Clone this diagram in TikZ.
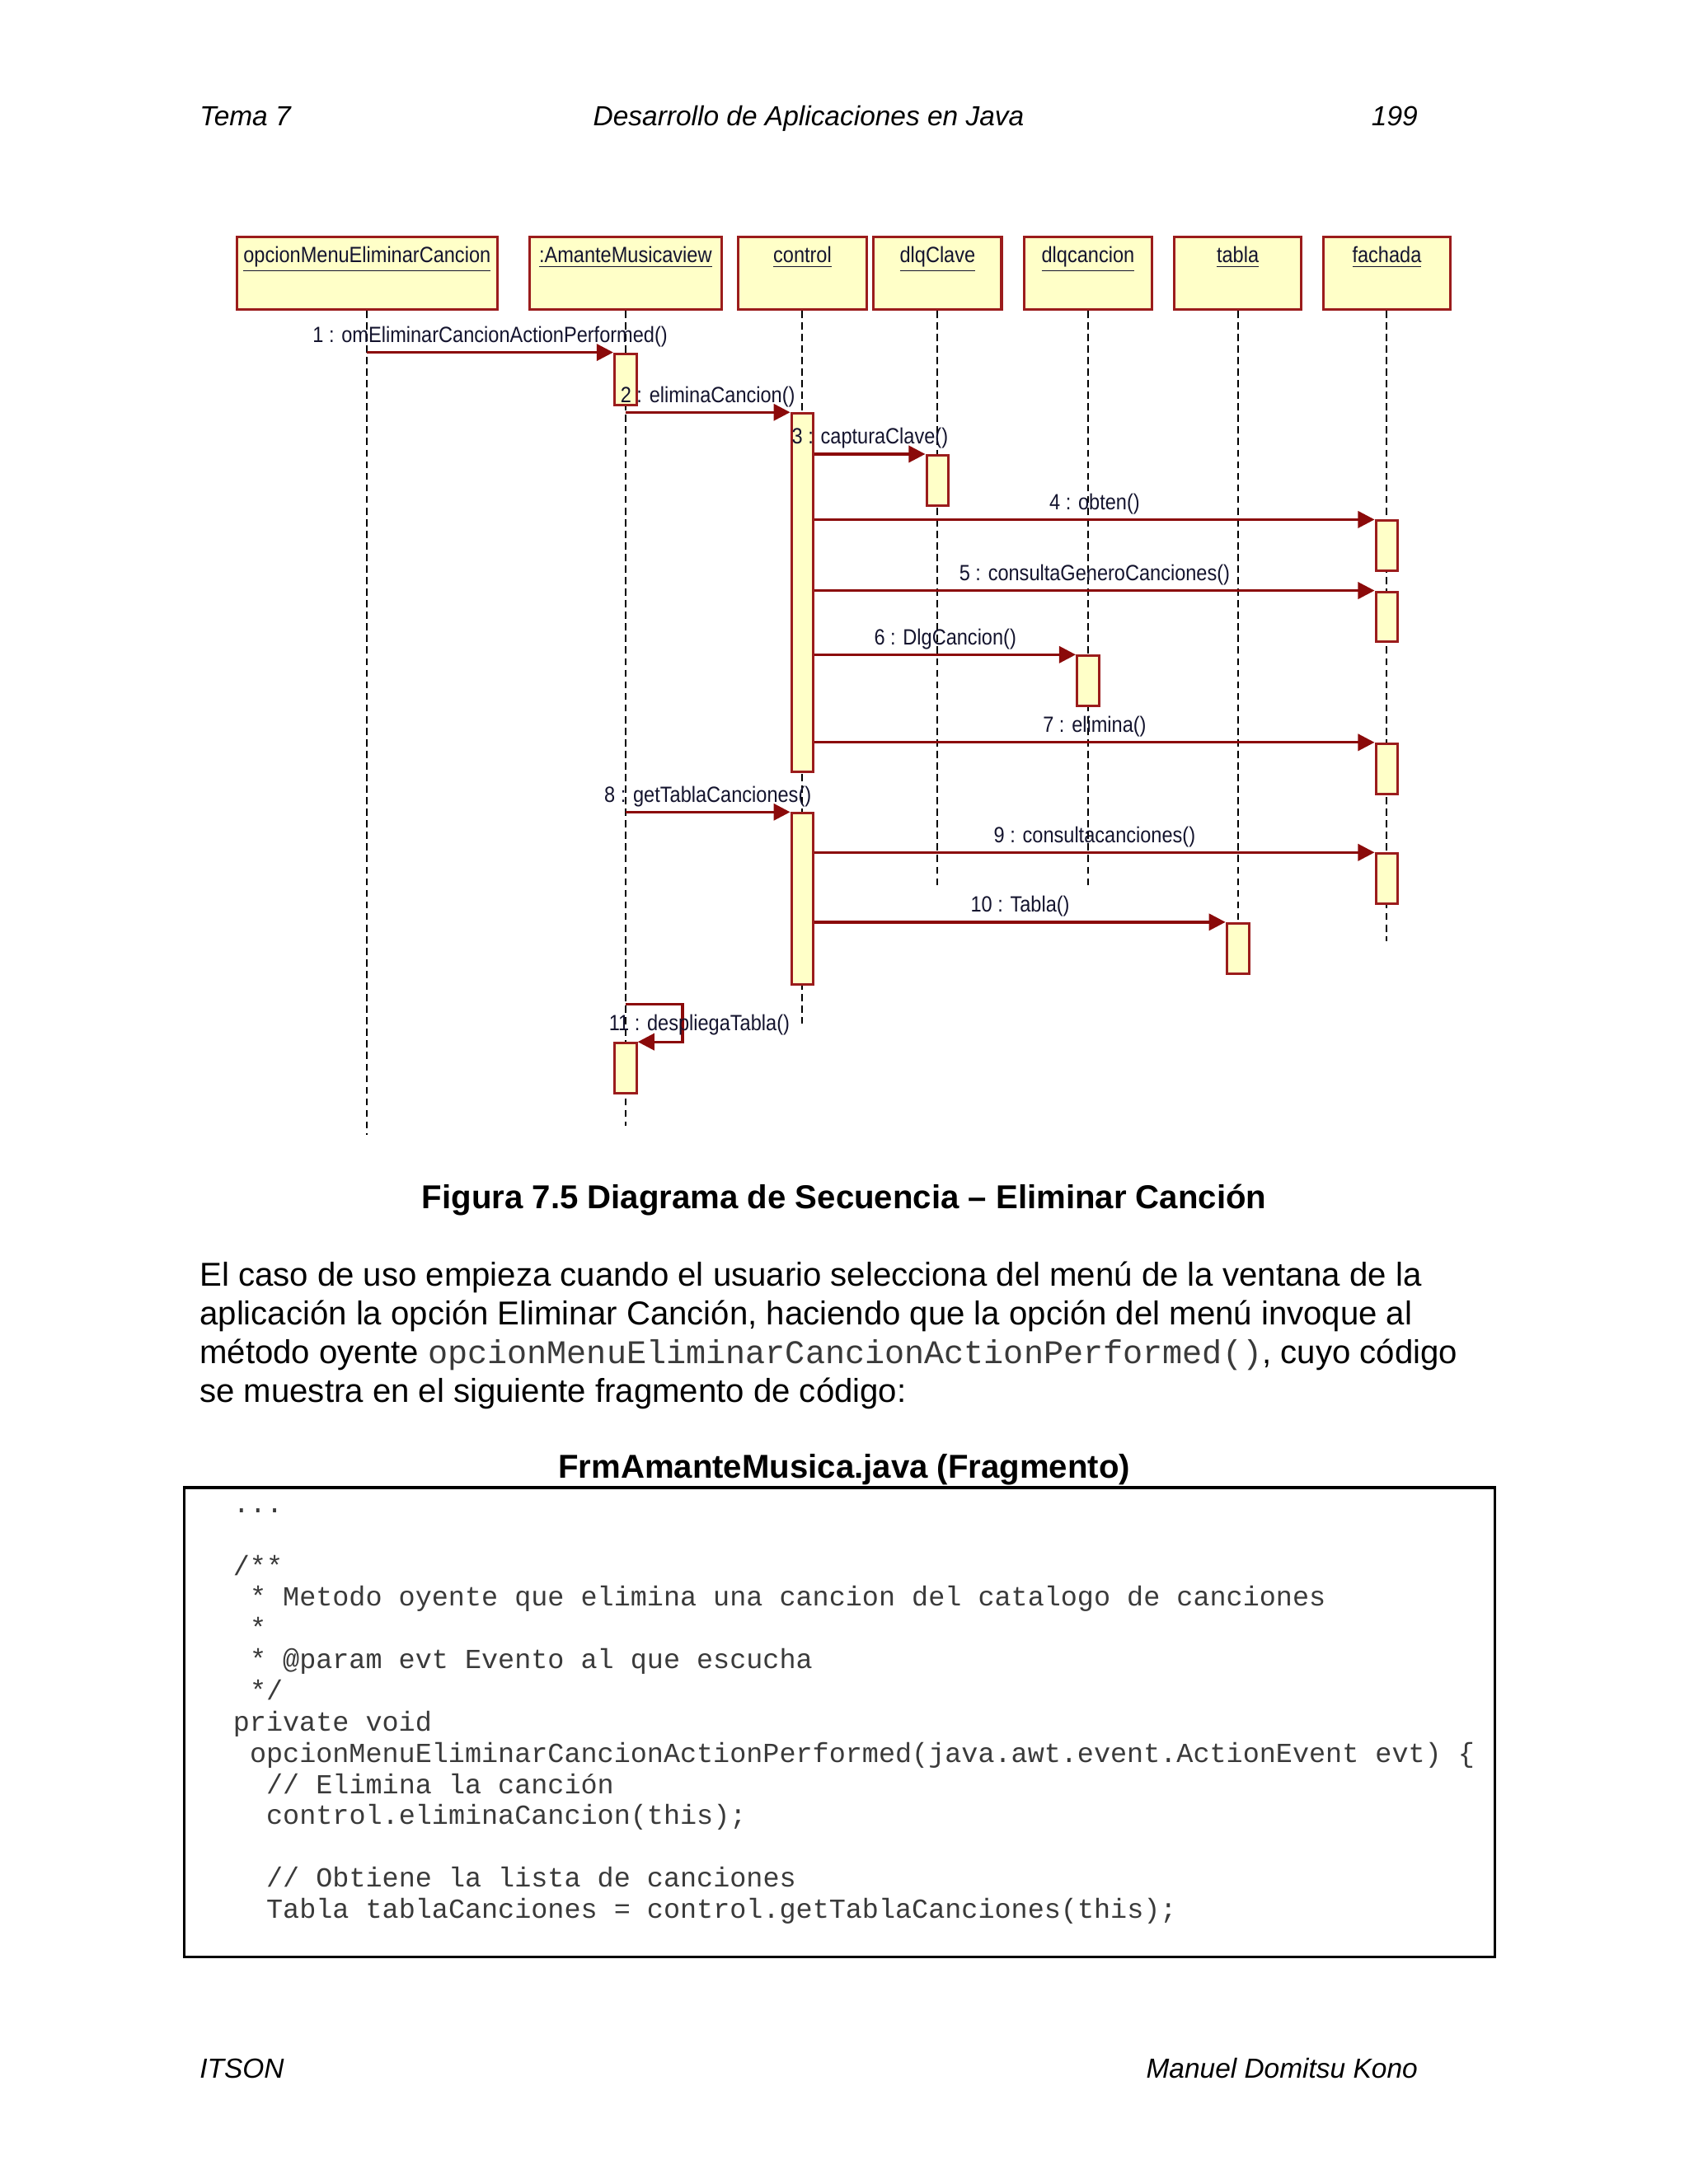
\documentclass[tikz,border=0pt]{standalone}
\usepackage{fontspec}
\setmainfont{Liberation Sans}
\setmonofont{Liberation Mono}
\newfontfamily\umlfont[FakeStretch=0.88]{Liberation Sans}
\usetikzlibrary{arrows.meta}
\newcommand{\Unit}{0.505pt}
\newcommand{\ActW}{8pt}
\newcommand{\BoxMid}{196}
\newcommand{\CodeTop}{1086}
\newcommand{\CodeStep}{22.4}
\definecolor{umlfill}{HTML}{FFFFC8}
\definecolor{umledge}{HTML}{9B1C1C}
\definecolor{umlmsg}{HTML}{8B0A0A}
\definecolor{umlink}{HTML}{14142E}
\definecolor{codeink}{HTML}{3A3A3A}

\tikzset{
  objbox/.style={draw=umledge, fill=umlfill, line width=1pt, minimum height=52*\Unit, inner sep=0pt},
  objname/.style={font=\umlfont\fontsize{8}{9}\selectfont, text=umlink, inner sep=0pt, anchor=north},
  actbox/.style={draw=umledge, fill=umlfill, line width=0.9pt, minimum width=\ActW, inner sep=0pt, anchor=north},
  lifeline/.style={black, line width=0.6pt, dash pattern=on 2.6pt off 1.6pt},
  msg/.style={umlmsg, line width=1pt, -{Triangle[length=6pt,width=6pt]}},
  msgtext/.style={font=\umlfont\fontsize{8}{9}\selectfont, text=umlink, inner sep=0pt, above=1.5pt},
  headtext/.style={font=\itshape\fontsize{10}{12}\selectfont, inner sep=0pt},
  bodytext/.style={font=\fontsize{12}{14}\selectfont, inner sep=0pt, anchor=base west},
  codeline/.style={font=\ttfamily\fontsize{10}{11}\selectfont, text=codeink, inner sep=0pt, anchor=base west}
}

\begin{document}
\begin{tikzpicture}[x=\Unit, y=-\Unit, line join=miter]

  % ---- page -----------------------------------------------------------------
  \fill[white] (0,0) rectangle (1212,1568);
  \useasboundingbox (0,0) rectangle (1212,1568);

  \node[headtext, anchor=base west] (tema) at (143,90) {Tema 7};
  \node[headtext, anchor=base] (titulo) at (580.5,90) {Desarrollo de Aplicaciones en Java};
  \node[headtext, anchor=base east] (pagina) at (1018,90) {199};

  % ---- objects --------------------------------------------------------------
  \foreach \obj/\x/\w/\txt in {opcion/263.5/187/opcionMenuEliminarCancion,
      amante/449/138/{:AmanteMusicaview}, control/576/92/control,
      dlgclave/673/92/dlqClave, dlgcancion/781/92/dlqcancion,
      tabla/888.5/91/tabla, fachada/995.5/91/fachada} {
    \node[objbox, minimum width=\w*\Unit] (\obj) at (\x,\BoxMid) {};
    \node[objname] (\obj-name) at ([yshift=-3.8pt]\obj.north) {\underline{\txt}};
  }

  % Lifelines stop where the tool stopped drawing them.
  \foreach \obj/\yend in {opcion/815, amante/808, control/735, dlgclave/638,
      dlgcancion/638, tabla/662, fachada/676}
    \draw[lifeline] (\obj.south) -- (\obj |- 0,\yend);

  % ---- activations ----------------------------------------------------------
  \foreach \n/\life/\t/\b in {a1/amante/253/290, c1/control/296/553,
      k3/dlgclave/326/362, f4/fachada/373/409, f5/fachada/424/460,
      d6/dlgcancion/470/506, f7/fachada/533/569, c2/control/583/706,
      f9/fachada/612/648, t10/tabla/662/698, a11/amante/748/784}
    \node[actbox, minimum height={(\b-\t)*\Unit}] (\n) at (\life |- 0,\t) {};

  % ---- messages -------------------------------------------------------------
  \draw[msg] (opcion |- a1.north) -- node[msgtext] (m1) {1 : omEliminarCancionActionPerformed()} (a1.north west);
  \draw[msg] (amante |- c1.north) -- node[msgtext] (m2) {2 : eliminaCancion()} (c1.north west);
  \draw[msg] (c1.east |- k3.north) -- node[msgtext] (m3) {3 : capturaClave()} (k3.north west);
  \draw[msg] (c1.east |- f4.north) -- node[msgtext] (m4) {4 : obten()} (f4.north west);
  \draw[msg] (c1.east |- f5.north) -- node[msgtext] (m5) {5 : consultaGeneroCanciones()} (f5.north west);
  \draw[msg] (c1.east |- d6.north) -- node[msgtext] (m6) {6 : DlgCancion()} (d6.north west);
  \draw[msg] (c1.east |- f7.north) -- node[msgtext] (m7) {7 : elimina()} (f7.north west);
  \draw[msg] (amante |- c2.north) -- node[msgtext] (m8) {8 : getTablaCanciones()} (c2.north west);
  \draw[msg] (c2.east |- f9.north) -- node[msgtext] (m9) {9 : consultacanciones()} (f9.north west);
  \draw[msg] (c2.east |- t10.north) -- node[msgtext] (m10) {10 : Tabla()} (t10.north west);

  % Self call goes round and comes back into its own activation.
  \coordinate (selfturn) at (490,721);
  \draw[msg] (amante |- selfturn) -- (selfturn) |- (a11.north east);
  \node[font=\umlfont\fontsize{8}{9}\selectfont, text=umlink, inner sep=0pt] (m11) at (502,736) {11 : despliegaTabla()};

  % ---- caption and text -----------------------------------------------------
  \node[font=\bfseries\fontsize{12}{14}\selectfont, inner sep=0pt, anchor=base] (caption) at (606,868)
    {Figura 7.5 Diagrama de Secuencia – Eliminar Canción};

  \node[bodytext] (p1) at (143,923.5) {El caso de uso empieza cuando el usuario selecciona del menú de la ventana de la};
  \node[bodytext] (p2) at (143,951.2) {aplicación la opción Eliminar Canción, haciendo que la opción del menú invoque al};
  \node[bodytext] (p3) at (143,978.9) {método oyente {\ttfamily\color{codeink}opcionMenuEliminarCancionActionPerformed()}, cuyo código};
  \node[bodytext] (p4) at (143,1006.6) {se muestra en el siguiente fragmento de código:};

  \node[font=\bfseries\fontsize{12}{14}\selectfont, inner sep=0pt, anchor=base] (codetitle) at (606,1061)
    {FrmAmanteMusica.java (Fragmento)};

  % ---- code fragment --------------------------------------------------------
  \draw[black, line width=0.9pt] (132,1068) rectangle (1073,1405);
  \foreach \i/\ind/\txt in {0/0/{...}, 2/0/{/**},
      3/1/{* Metodo oyente que elimina una cancion del catalogo de canciones},
      4/1/{*}, 5/1/{* @param evt Evento al que escucha}, 6/1/{*/},
      7/0/{private void},
      8/1/{opcionMenuEliminarCancionActionPerformed(java.awt.event.ActionEvent evt) \{},
      9/2/{// Elimina la canción}, 10/2/{control.eliminaCancion(this);},
      12/2/{// Obtiene la lista de canciones},
      13/2/{Tabla tablaCanciones = control.getTablaCanciones(this);}}
    \node[codeline] (code\i) at (167+\ind*11.9, \CodeTop+\i*\CodeStep) {\txt};

  % ---- footer ---------------------------------------------------------------
  \node[headtext, anchor=base west] (escuela) at (143,1492) {ITSON};
  \node[headtext, anchor=base east] (autor) at (1018,1492) {Manuel Domitsu Kono};

\end{tikzpicture}
\end{document}
